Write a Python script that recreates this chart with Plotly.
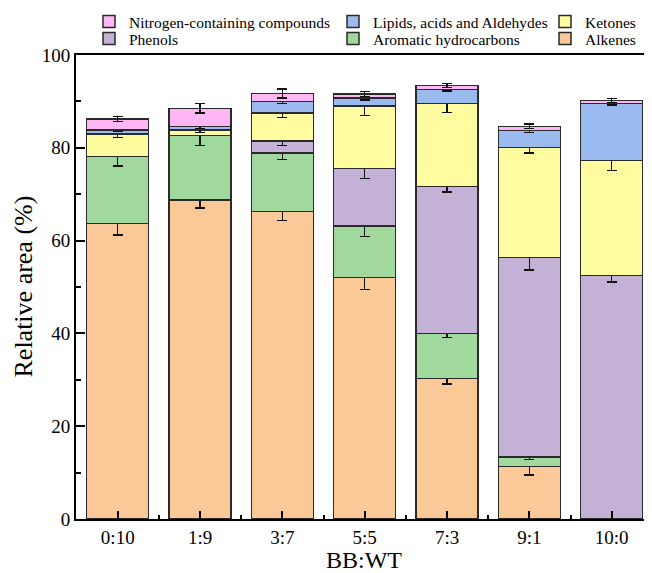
import plotly.graph_objects as go

categories = ["0:10", "1:9", "3:7", "5:5", "7:3", "9:1", "10:0"]

alkenes = [63.7, 68.8, 66.3, 52.1, 30.3, 11.3, None]
aromatic = [14.4, 13.8, 12.6, 11.0, 9.7, 2.1, None]
phenols = [None, None, 2.6, 12.4, 31.7, 43.0, 52.5]
ketones = [4.9, 1.2, 6.0, 13.5, 17.8, 23.7, 24.8]
lipids = [0.8, 0.8, 2.5, 1.7, 3.1, 3.6, 12.2]
nitrogen = [2.4, 3.9, 1.7, 0.9, 0.8, 0.9, 0.7]

alkenes_err = [2.5, 1.8, 2.0, 2.7, 1.2, 1.8, 0]
aromatic_err = [2.0, 2.1, 1.4, 2.2, 0.9, 0.6, 0]
phenols_err = [0, 0, 1.0, 2.1, 1.2, 2.7, 1.4]
ketones_err = [0.8, 0.5, 1.0, 2.0, 1.9, 1.2, 2.2]
lipids_err = [0.3, 0.4, 0.5, 0.4, 0.4, 0.4, 0.3]
nitrogen_err = [0.5, 1.0, 1.0, 0.5, 0.4, 0.5, 0.4]

x_pos = list(range(len(categories)))

# (name, values, errors, colour, legend id)
series = [
    ("Alkenes", alkenes, alkenes_err, "#FBC898", "legend6"),
    ("Aromatic hydrocarbons", aromatic, aromatic_err, "#A0D89E", "legend5"),
    ("Phenols", phenols, phenols_err, "#C3B2D6", "legend4"),
    ("Ketones", ketones, ketones_err, "#FFFCA0", "legend3"),
    ("Lipids, acids and Aldehydes", lipids, lipids_err, "#9BBAF0", "legend2"),
    ("Nitrogen-containing compounds", nitrogen, nitrogen_err, "#FFB6F5", "legend"),
]

fig = go.Figure()
for name, vals, errs, color, leg in series:
    fig.add_trace(go.Bar(
        x=x_pos, y=vals, name=name,
        marker=dict(color=color, line=dict(color="#2a2a2a", width=1.5)),
        error_y=dict(type="data", array=errs,
                     color="#111111", thickness=1.4, width=5, visible=True),
        legend=leg, showlegend=True,
    ))

font_family = "Liberation Serif"
W, H = 644, 565
PL, PT, PB = 68, 47, 54


def leg(xpx, ypx):
    return dict(orientation="v", xref="container", yref="container",
                xanchor="left", yanchor="middle",
                x=xpx / W, y=1 - ypx / H,
                bgcolor="rgba(0,0,0,0)", borderwidth=0,
                font=dict(family=font_family, size=15.5, color="#000"))


plot_h = H - PT - PB
plot_w = W - PL

fig.update_layout(
    width=W, height=H,
    margin=dict(l=PL, r=0, t=PT, b=PB, autoexpand=False),
    barmode="stack", bargap=0.247,
    showlegend=True,
    plot_bgcolor="white", paper_bgcolor="white",
    font=dict(family=font_family, size=19, color="#000"),
    legend=leg(81, 14),
    legend4=leg(81, 31),
    legend2=leg(325, 14),
    legend5=leg(325, 31),
    legend3=leg(537, 14),
    legend6=leg(537, 31),
    xaxis=dict(
        range=[-0.507, 6.49],
        tickvals=x_pos, ticktext=categories,
        ticks="inside", ticklen=8, tickwidth=1.5, tickcolor="#000",
        showline=True, linecolor="#000", linewidth=2, mirror=True,
        showgrid=False, zeroline=False,
        minor=dict(tickvals=[i + 0.5 for i in range(6)], ticks="inside",
                   ticklen=4, tickwidth=1.5, tickcolor="#000"),
        title=dict(text="BB:WT", font=dict(size=24)),
        tickfont=dict(size=19),
    ),
    yaxis=dict(
        range=[0, 100], tickvals=[0, 20, 40, 60, 80, 100],
        ticks="inside", ticklen=9, tickwidth=1.5, tickcolor="#000",
        showline=True, linecolor="#000", linewidth=2,
        showgrid=False, zeroline=False,
        minor=dict(tickvals=[10, 30, 50, 70, 90], ticks="inside",
                   ticklen=5, tickwidth=1.5, tickcolor="#000"),
        tickfont=dict(size=19),
    ),
    annotations=[dict(
        text="Relative area (%)", textangle=-90,
        xref="paper", yref="paper",
        x=(15 - PL) / plot_w, y=(H - PB - 278.5) / plot_h,
        xanchor="center", yanchor="middle", showarrow=False,
        font=dict(family=font_family, size=26, color="#000"),
    )],
)

fig.write_html("out.html")
